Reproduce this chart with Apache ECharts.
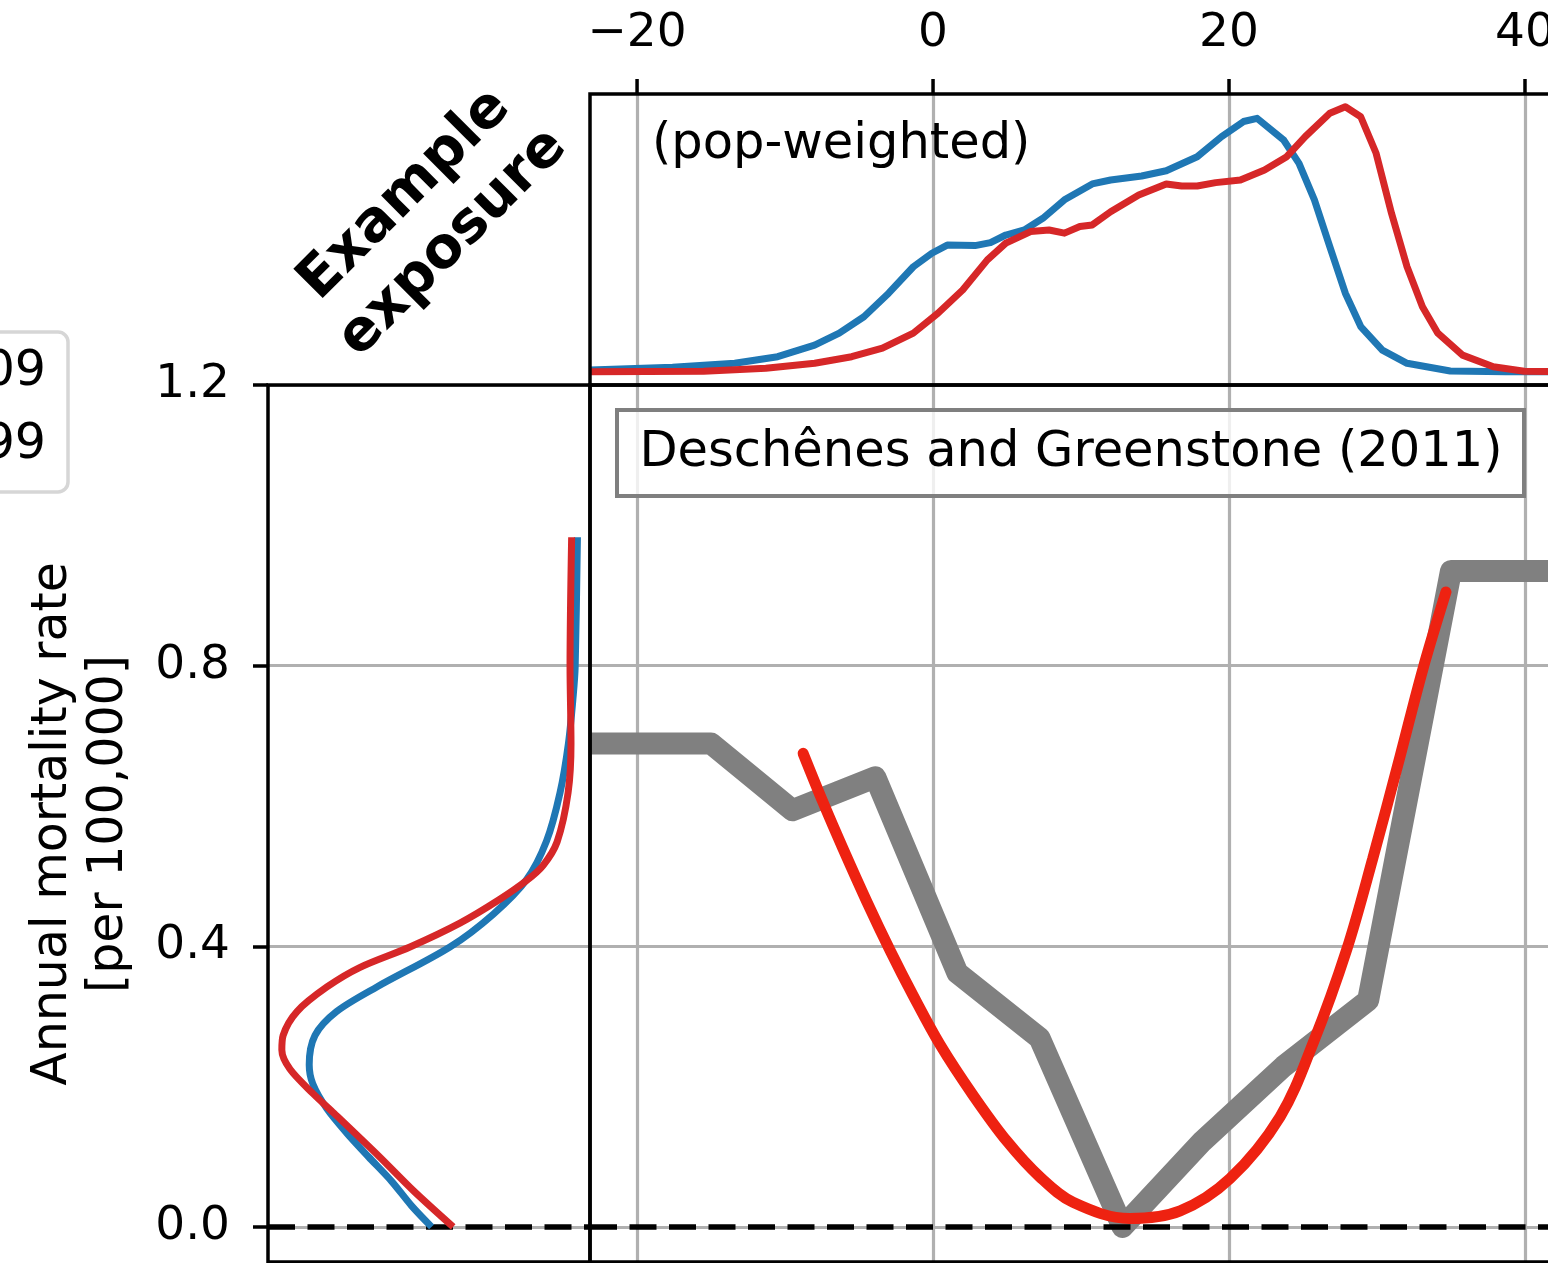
<!DOCTYPE html>
<html><head><meta charset="utf-8">
<script src="https://cdn.jsdelivr.net/npm/echarts@6/dist/echarts.min.js"></script>
<style>html,body{margin:0;padding:0;background:#fff}#c{width:1548px;height:1263px}</style>
</head><body><div id="c"></div>
<script>
// ---- data ----
const tempTicks = [-20, 0, 20, 40];
const rateTicks = [0, 0.4, 0.8, 1.2];
const tempRange = [-23.18, 43.92];
const rateRange = [-0.05, 1.2];
const densRange = [-0.05, 1.05];

// exposure distributions (pop-weighted), normalised density
const exposureBlueT = [-23.18, -17.6, -13.4, -10.5, -8.0, -6.34, -4.67, -3.0, -1.33, -0.08, 0.96, 2.84, 3.88, 4.92, 6.17, 7.42, 8.88, 10.76, 12.0, 14.1, 15.76, 17.85, 19.5, 20.98, 21.9, 23.69, 24.73, 25.77, 26.81, 27.86, 28.9, 30.36, 32.03, 34.95, 38.7, 43.92];
const exposureBlueD = [0.007, 0.017, 0.032, 0.057, 0.101, 0.146, 0.208, 0.297, 0.397, 0.448, 0.479, 0.477, 0.488, 0.517, 0.536, 0.580, 0.650, 0.710, 0.725, 0.740, 0.760, 0.813, 0.889, 0.946, 0.958, 0.876, 0.788, 0.650, 0.473, 0.297, 0.171, 0.082, 0.032, 0.003, 0.0, 0.0];
const exposureRedT = [-23.18, -15.5, -11.3, -8.0, -5.5, -3.42, -1.33, 0.33, 2.0, 3.67, 4.92, 6.59, 7.84, 8.88, 9.92, 10.76, 12.0, 13.9, 15.76, 16.8, 17.85, 19.1, 20.77, 22.4, 23.9, 25.15, 26.81, 27.86, 28.9, 29.94, 30.98, 32.03, 33.07, 34.11, 35.78, 37.86, 39.95, 43.92];
const exposureRedD = [0, 0.002, 0.013, 0.032, 0.057, 0.089, 0.146, 0.221, 0.309, 0.423, 0.486, 0.530, 0.536, 0.524, 0.549, 0.555, 0.605, 0.668, 0.710, 0.702, 0.702, 0.715, 0.725, 0.763, 0.813, 0.889, 0.977, 1.002, 0.964, 0.826, 0.599, 0.397, 0.246, 0.146, 0.063, 0.019, 0.002, 0];

// Deschenes and Greenstone (2011) binned response
const dgT = [-23.18, -15.0, -9.5, -3.9, 1.65, 7.2, 12.8, 18.2, 23.7, 29.4, 35.0, 43.92];
const dgRate = [0.689, 0.689, 0.594, 0.641, 0.362, 0.269, 0.0, 0.122, 0.229, 0.323, 0.935, 0.935];

// fitted response (red)
const fitT = [-8.78, -7.43, -6.08, -4.46, -2.9, -1.35, 0.47, 2.7, 5.0, 7.23, 9.46, 13.3, 16.7, 20.07, 23.45, 25.7, 27.95, 29.7, 31.55, 33.1, 34.66];
const fitRate = [0.675, 0.605, 0.539, 0.463, 0.394, 0.330, 0.260, 0.188, 0.122, 0.071, 0.035, 0.012, 0.023, 0.069, 0.157, 0.263, 0.395, 0.524, 0.670, 0.795, 0.905];

// left side panel (normalised horizontal units vs rate)
const sideBlueU = [0.508, 0.446, 0.384, 0.312, 0.244, 0.182, 0.139, 0.128, 0.146, 0.213, 0.338, 0.565, 0.700, 0.803, 0.865, 0.907, 0.933, 0.948, 0.954, 0.961];
const sideBlueRate = [0, 0.030, 0.065, 0.100, 0.134, 0.169, 0.204, 0.231, 0.273, 0.307, 0.342, 0.399, 0.446, 0.495, 0.550, 0.619, 0.689, 0.758, 0.799, 0.983];
const sideRedU = [0.575, 0.453, 0.346, 0.205, 0.140, 0.068, 0.043, 0.047, 0.090, 0.183, 0.286, 0.441, 0.596, 0.720, 0.804, 0.854, 0.898, 0.932, 0.941, 0.938, 0.943];
const sideRedRate = [0, 0.051, 0.100, 0.162, 0.190, 0.225, 0.252, 0.273, 0.307, 0.342, 0.370, 0.399, 0.433, 0.467, 0.494, 0.515, 0.549, 0.619, 0.689, 0.799, 0.983];

const legendLabels = ['09', '99'];

// ---- build ----
const zip = (a, b) => a.map((v, i) => [v, b[i]]);
const FONT = '"DejaVu Sans", sans-serif';
const GRIDC = '#b0b0b0';
const minus = v => (v < 0 ? '\u2212' + Math.abs(v) : String(v));

const chart = echarts.init(document.getElementById('c'), null, {renderer: 'canvas'});
const gridBase = {show: true, borderColor: '#000', borderWidth: 3.5, backgroundColor: 'transparent', z: 10,
  containLabel: false, outerBoundsMode: 'none'};
const dash = {color: '#000', width: 5.5, type: [27, 12.5]};
const noLine = {show: false, onZero: false};
const TOP_GRID = {left: 590, top: 94, width: 993};

const staticGraphics = [
  {type: 'rect', z: 20, shape: {x: 617, y: 410, width: 907, height: 86},
   style: {fill: 'rgba(255,255,255,0.8)', stroke: '#7f7f7f', lineWidth: 4}},
  {type: 'text', z: 21, x: 1071, y: 453,
   style: {text: 'Deschênes and Greenstone (2011)', fontSize: 49.5, fontFamily: FONT, fill: '#000', align: 'center', verticalAlign: 'middle'}},
  {type: 'text', z: 21, x: 652, y: 145,
   style: {text: '(pop-weighted)', fontSize: 49.5, fontFamily: FONT, fill: '#000', align: 'left', verticalAlign: 'middle'}},
  {type: 'text', z: 21, x: 429, y: 219, rotation: Math.PI / 4,
   style: {text: 'Example\nexposure', fontSize: 57, fontWeight: 'bold', fontFamily: FONT, fill: '#000', align: 'center', verticalAlign: 'middle', lineHeight: 68}},
  {type: 'text', z: 21, x: 81, y: 824, rotation: Math.PI / 2,
   style: {text: 'Annual mortality rate\n[per 100,000]', fontSize: 49, fontFamily: FONT, fill: '#000', align: 'center', verticalAlign: 'middle', lineHeight: 56}},
  {type: 'rect', z: 20, shape: {x: -30, y: 332, width: 98, height: 160, r: 10},
   style: {fill: 'rgba(255,255,255,0.8)', stroke: '#d6d6d6', lineWidth: 3.5}},
  {type: 'text', z: 21, x: 46, y: 372,
   style: {text: legendLabels[0], fontSize: 49, fontFamily: FONT, fill: '#000', align: 'right', verticalAlign: 'middle'}},
  {type: 'text', z: 21, x: 46, y: 445,
   style: {text: legendLabels[1], fontSize: 49, fontFamily: FONT, fill: '#000', align: 'right', verticalAlign: 'middle'}}
];

chart.setOption({
  animation: false,
  backgroundColor: '#fff',
  grid: [
    Object.assign({left: TOP_GRID.left, top: TOP_GRID.top, width: TOP_GRID.width, height: 291}, gridBase),
    Object.assign({left: 590, top: 385, width: 993, height: 877}, gridBase),
    Object.assign({left: 268, top: 385, width: 322, height: 877}, gridBase)
  ],
  xAxis: [
    {gridIndex: 0, type: 'value', position: 'top', min: tempRange[0], max: tempRange[1],
     axisLine: noLine,
     axisTick: {show: false, customValues: tempTicks},
     axisLabel: {show: true, customValues: tempTicks, margin: 37, fontSize: 47, fontFamily: FONT, color: '#000', formatter: minus},
     splitLine: {show: true, lineStyle: {color: GRIDC, width: 3.2}}},
    {gridIndex: 1, type: 'value', min: tempRange[0], max: tempRange[1],
     axisLine: noLine,
     axisTick: {show: false, customValues: tempTicks},
     axisLabel: {show: false, customValues: tempTicks},
     splitLine: {show: true, lineStyle: {color: GRIDC, width: 3.2}}},
    {gridIndex: 2, type: 'value', min: 0, max: 1,
     axisLine: noLine, axisTick: {show: false}, axisLabel: {show: false}, splitLine: {show: false}}
  ],
  yAxis: [
    {gridIndex: 0, type: 'value', min: densRange[0], max: densRange[1],
     axisLine: noLine, axisTick: {show: false}, axisLabel: {show: false}, splitLine: {show: false}},
    {gridIndex: 1, type: 'value', min: rateRange[0], max: rateRange[1],
     axisLine: noLine,
     axisTick: {show: false, customValues: rateTicks},
     axisLabel: {show: false, customValues: rateTicks},
     splitLine: {show: true, lineStyle: {color: GRIDC, width: 3.2}}},
    {gridIndex: 2, type: 'value', min: rateRange[0], max: rateRange[1],
     axisLine: noLine,
     axisTick: {show: true, length: 15, customValues: rateTicks, lineStyle: {color: '#000', width: 3.5}},
     axisLabel: {show: true, customValues: rateTicks, margin: 38, fontSize: 47, fontFamily: FONT, color: '#000', formatter: v => v.toFixed(1)},
     splitLine: {show: true, lineStyle: {color: GRIDC, width: 3.2}}}
  ],
  series: [
    {type: 'line', xAxisIndex: 0, yAxisIndex: 0, data: zip(exposureBlueT, exposureBlueD), showSymbol: false, symbol: 'none',
     lineStyle: {color: '#1f77b4', width: 7, join: 'round', cap: 'butt'}},
    {type: 'line', xAxisIndex: 0, yAxisIndex: 0, data: zip(exposureRedT, exposureRedD), showSymbol: false, symbol: 'none',
     lineStyle: {color: '#d62728', width: 7, join: 'round', cap: 'butt'}},
    {type: 'line', xAxisIndex: 2, yAxisIndex: 2, data: [[0, 0], [1, 0]], symbol: 'none', lineStyle: dash, z: 3},
    {type: 'line', xAxisIndex: 2, yAxisIndex: 2, data: zip(sideBlueU, sideBlueRate), symbol: 'none', smooth: 0.3,
     lineStyle: {color: '#1f77b4', width: 7}},
    {type: 'line', xAxisIndex: 2, yAxisIndex: 2, data: zip(sideRedU, sideRedRate), symbol: 'none', smooth: 0.3,
     lineStyle: {color: '#d62728', width: 7}},
    {type: 'line', xAxisIndex: 1, yAxisIndex: 1, data: zip(dgT, dgRate), symbol: 'none',
     lineStyle: {color: '#808080', width: 22, join: 'round', cap: 'butt'}},
    {type: 'line', xAxisIndex: 1, yAxisIndex: 1, data: [[tempRange[0], 0], [tempRange[1], 0]], symbol: 'none', lineStyle: dash, z: 3},
    {type: 'line', xAxisIndex: 1, yAxisIndex: 1, data: zip(fitT, fitRate), symbol: 'none', smooth: 0.35,
     lineStyle: {color: '#ee2211', width: 11, cap: 'round'}, z: 4}
  ],
  graphic: staticGraphics
});

// outward tick marks on the top panel's upper spine (filled bars on their own layer)
const tickBars = tempTicks.map(t => {
  let p = null;
  try { p = chart.convertToPixel({gridIndex: 0}, [t, densRange[1]]); } catch (e) { p = null; }
  if (!p || !isFinite(p[0]) || !isFinite(p[1])) {
    p = [TOP_GRID.left + (t - tempRange[0]) / (tempRange[1] - tempRange[0]) * TOP_GRID.width, TOP_GRID.top];
  }
  return {type: 'rect', zlevel: 1, z: 100, silent: true,
          shape: {x: p[0] - 1.75, y: p[1] - 15, width: 3.5, height: 15},
          style: {fill: '#000'}};
});
chart.setOption({graphic: staticGraphics.concat(tickBars)});
</script></body></html>
